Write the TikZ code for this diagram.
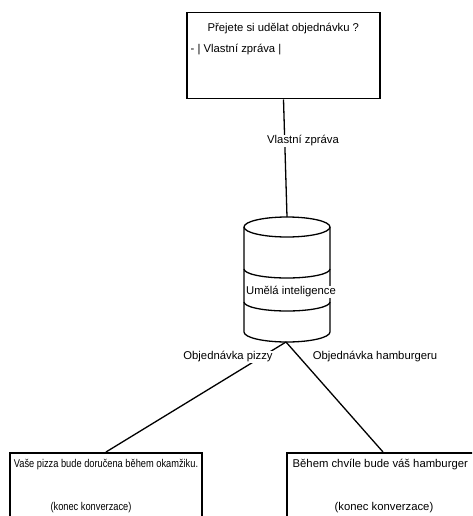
\documentclass[tikz,border=0pt]{standalone}
\usepackage{fontspec}
\setmainfont{Liberation Sans}
\newfontfamily\narrowsans{Liberation Sans}[FakeStretch=0.82]
\begin{document}
\begin{tikzpicture}
  [x=1pt,y=-1pt,line width=1.3pt,
   every node/.style={font=\fontsize{11.3}{13}\selectfont,inner sep=1pt},
   box/.style={draw,line width=1.5pt,minimum width=192pt,minimum height=90pt,anchor=north},
   lbl/.style={fill=white}]
  \clip (0,0) rectangle (472,516);

  \node[box,minimum width=193pt,minimum height=86pt] (ask) at (283.5,12) {};
  \node[anchor=west] (q1) at (206,29) {Přejete si udělat objednávku ?};
  \node[anchor=west] (q2) at (189,50) {- | Vlastní zpráva |};

  \node[box] (pizza) at (106,452) {};
  \node[box] (burger) at (383,452) {};
  \node[font=\narrowsans\fontsize{11.3}{13}\selectfont] (p1) at (106,465) {Vaše pizza bude doručena během okamžiku.};
  \node[font=\narrowsans\fontsize{11.3}{13}\selectfont] (p2) at (91,508) {(konec konverzace)};
  \node[anchor=west] (b1) at (291,465) {Během chvíle bude váš hamburger};
  \node (b2) at (384,508) {(konec konverzace)};

  % database
  \draw (287,227) ellipse [x radius=43,y radius=10];
  \draw (244,227) -- (244,332) arc [start angle=180,end angle=0,x radius=43,y radius=10] -- (330,227);
  \draw (244,269) arc [start angle=180,end angle=0,x radius=43,y radius=9];
  \draw (244,302) arc [start angle=180,end angle=0,x radius=43,y radius=9];
  \coordinate (aitop) at (287,217);
  \coordinate (aibot) at (286,342);
  \node[lbl] (ai) at (291,292) {Umělá inteligence};

  \draw (ask.south) -- (aitop);
  \foreach \from/\to in {aibot/pizza, aibot/burger}
  \draw (\from) -- (\to.north);

  \node[lbl] (l1) at (303,141) {Vlastní zpráva};
  \node[lbl] (l2) at (228,357) {Objednávka pizzy};
  \node (l3) at (375,357) {Objednávka hamburgeru};
\end{tikzpicture}
\end{document}
